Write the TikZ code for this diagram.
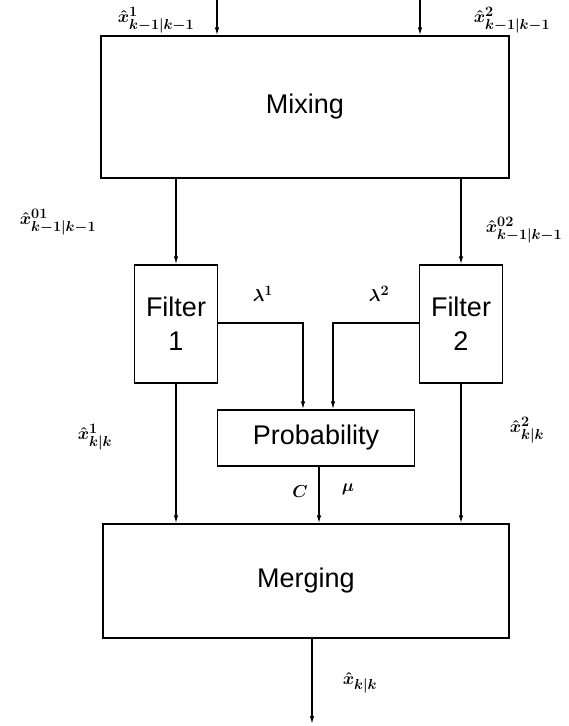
\documentclass[tikz,border=0pt]{standalone}
\usepackage{fontspec}
\setsansfont{Liberation Sans}
\usetikzlibrary{arrows.meta}
\DeclareMathSizes{19}{19}{15.5}{11.5}
\tikzset{
  blk/.style={draw, line width=1.3pt, inner sep=0pt, font=\sffamily\fontsize{27}{34}\selectfont, align=center},
  flow/.style={line width=1.3pt, -{Latex[length=8pt,width=4.5pt]}},
  lbl/.style={font=\fontsize{19}{23}\selectfont\boldmath, inner sep=0pt},
}
\begin{document}
\begin{tikzpicture}[x=1pt,y=-1pt]
\useasboundingbox (0,0) rectangle (569,726);
% blocks
\node[blk, minimum width=408pt, minimum height=142pt] (mix) at (305,107) {Mixing};
\node[blk, minimum width=83pt, minimum height=118pt] (f1) at (176,324) {Filter\\1};
\node[blk, minimum width=83pt, minimum height=118pt] (f2) at (461,324) {Filter\\2};
\node[blk, minimum width=197pt, minimum height=56pt] (prob) at (316,438) {Probability};
\node[blk, minimum width=406pt, minimum height=114pt] (mrg) at (306,581) {Merging};
% free ends
\coordinate (in1) at (217,0);
\coordinate (in2) at (420,0);
\coordinate (out) at (312,724);
% connectors
\draw[flow] (in1) -- (in1 |- mix.north);
\draw[flow] (in2) -- (in2 |- mix.north);
\draw[flow] (f1.north |- mix.south) -- (f1.north);
\draw[flow] (f2.north |- mix.south) -- (f2.north);
\draw[flow] (f1.south) -- (f1.south |- mrg.north);
\draw[flow] (f2.south) -- (f2.south |- mrg.north);
\coordinate (l1) at (303,323);
\coordinate (l2) at (333,323);
\draw[flow] (f1.east |- l1) -- (l1) -- (l1 |- prob.north);
\draw[flow] (f2.west |- l2) -- (l2) -- (l2 |- prob.north);
\draw[flow] (319,0 |- prob.south) -- (319,0 |- mrg.north);
\draw[flow] (out |- mrg.south) -- (out);
% labels
\node[lbl] (t1) at (156,20) {$\hat{x}^1_{k-1|k-1}$};
\node[lbl] (t2) at (512,20) {$\hat{x}^2_{k-1|k-1}$};
\node[lbl] (t01) at (58,222) {$\hat{x}^{01}_{k-1|k-1}$};
\node[lbl] (t02) at (524,230) {$\hat{x}^{02}_{k-1|k-1}$};
\node[lbl] (la1) at (263,294) {$\lambda^1$};
\node[lbl] (la2) at (379,294) {$\lambda^2$};
\node[lbl] (o1) at (95,437) {$\hat{x}^1_{k|k}$};
\node[lbl] (o2) at (527,430) {$\hat{x}^2_{k|k}$};
\node[lbl] (c) at (300,492) {$C$};
\node[lbl] (mu) at (348,489) {$\mu$};
\node[lbl] (o) at (360,683) {$\hat{x}_{k|k}$};
\end{tikzpicture}
\end{document}
